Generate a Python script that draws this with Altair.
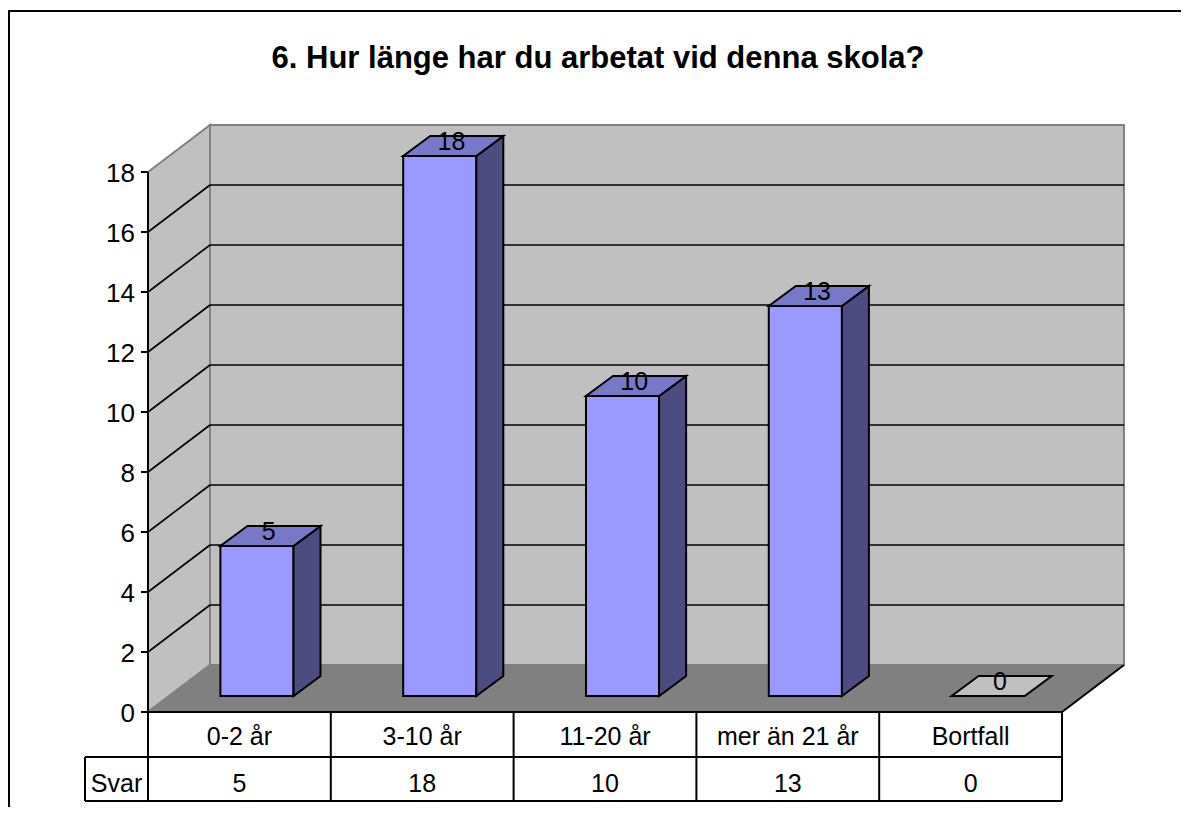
import altair as alt
import pandas as pd

# ---------------- data ----------------
title_text = "6. Hur länge har du arbetat vid denna skola?"
categories = ["0-2 år", "3-10 år", "11-20 år", "mer än 21 år", "Bortfall"]
values = [5, 18, 10, 13, 0]
series_label = "Svar"
y_ticks = [0, 2, 4, 6, 8, 10, 12, 14, 16, 18]
y_max = 18

# ---------------- layout (page pixels) ----------------
W, H = 1173, 799
X0, CELL, Y0, PXV = 148.0, 182.8, 712.0, 30.0
FONT = "Liberation Sans, Arial, sans-serif"


def U(px):
    return (px - X0) / CELL


def V(py):
    return (Y0 - py) / PXV


DU, DV = 62 / CELL, 47 / PXV          # wall depth
B_OFF, B_HALF = 0.596, 0.2            # bar centre / half width (front plane, cat units)
B_DX1, B_DX2 = 0.0, 27 / CELL        # bar front / back horizontal shift
B_DV1, B_DV2 = 16 / PXV, 36 / PXV    # bar front / back vertical shift
n = len(categories)

xs = alt.Scale(domain=[U(8), U(8 + W)], nice=False, zero=False)
ys = alt.Scale(domain=[V(8 + H), V(8)], nice=False, zero=False)


def X(f="x"):
    return alt.X(f"{f}:Q", scale=xs, axis=None)


def Y(f="y"):
    return alt.Y(f"{f}:Q", scale=ys, axis=None)


layers = []

# floor
floor = pd.DataFrame({"y": [0, DV], "x": [0, DU], "x2": [n, n + DU]})
layers.append(alt.Chart(floor).mark_area(orient="horizontal", fill="#808080", stroke=None)
              .encode(y=Y(), x=X(), x2="x2:Q"))

# left wall
lw = pd.DataFrame({"x": [0, DU], "y": [y_max, y_max + DV], "y2": [0, DV]})
layers.append(alt.Chart(lw).mark_area(orient="vertical", fill="#C0C0C0", stroke="#808080", strokeWidth=2)
              .encode(x=X(), y=Y(), y2="y2:Q"))

# back wall
bw = pd.DataFrame({"x": [DU], "x2": [n + DU], "y": [DV], "y2": [y_max + DV]})
layers.append(alt.Chart(bw).mark_rect(fill="#C0C0C0", stroke="#808080", strokeWidth=2)
              .encode(x=X(), x2="x2:Q", y=Y(), y2="y2:Q"))

# gridlines on back wall and left wall
inner = [t for t in y_ticks if 0 < t < y_max]
gb = pd.DataFrame({"x": DU, "x2": n + DU, "y": [t + DV for t in inner]})
layers.append(alt.Chart(gb).mark_rule(color="black", strokeWidth=1.6)
              .encode(x=X(), x2="x2:Q", y=Y()))
gl = pd.DataFrame({"x": 0, "x2": DU, "y": inner, "y2": [t + DV for t in inner]})
layers.append(alt.Chart(gl).mark_rule(color="black", strokeWidth=1.6)
              .encode(x=X(), x2="x2:Q", y=Y(), y2="y2:Q"))

# floor edges
fe = pd.DataFrame({"x": [0, n], "x2": [DU, n + DU], "y": [0, 0], "y2": [DV, DV],
                   "c": ["#808080", "black"]})
layers.append(alt.Chart(fe).mark_rule(strokeWidth=2)
              .encode(x=X(), x2="x2:Q", y=Y(), y2="y2:Q", color=alt.Color("c:N", scale=None)))

# y axis line, ticks, labels
ax = pd.DataFrame({"x": [0], "y": [0], "y2": [y_max]})
layers.append(alt.Chart(ax).mark_rule(color="black", strokeWidth=2)
              .encode(x=X(), y=Y(), y2="y2:Q"))
tk = pd.DataFrame({"x": U(141), "x2": 0.0, "y": y_ticks})
layers.append(alt.Chart(tk).mark_rule(color="black", strokeWidth=2)
              .encode(x=X(), x2="x2:Q", y=Y()))
tl = pd.DataFrame({"x": U(135), "y": [t - 10 / PXV for t in y_ticks], "t": [str(t) for t in y_ticks]})
layers.append(alt.Chart(tl).mark_text(align="right", baseline="alphabetic", font=FONT, fontSize=26, color="black")
              .encode(x=X(), y=Y(), text="t:N"))

# bars
bars = pd.DataFrame({"cat": categories, "val": values, "i": range(n)})
bars["c"] = bars["i"] + B_OFF
front = pd.DataFrame({
    "x": bars["c"] - B_HALF + B_DX1, "x2": bars["c"] + B_HALF + B_DX1,
    "y": B_DV1, "y2": bars["val"] + B_DV1, "cat": bars["cat"]})
layers.append(alt.Chart(front).mark_rect(fill="#9999FF", stroke="black", strokeWidth=2)
              .encode(x=X(), x2="x2:Q", y=Y(), y2="y2:Q"))

side_rows, top_rows = [], []
for _, r in bars.iterrows():
    for dx, dv in ((B_DX1, B_DV1), (B_DX2, B_DV2)):
        side_rows.append({"cat": r["cat"], "x": r["c"] + B_HALF + dx,
                          "y": r["val"] + dv, "y2": dv})
        top_rows.append({"cat": r["cat"], "y": r["val"] + dv,
                         "x": r["c"] - B_HALF + dx, "x2": r["c"] + B_HALF + dx,
                         "f": "#7878C8" if r["val"] > 0 else "#C0C0C0"})
side = pd.DataFrame(side_rows)
top = pd.DataFrame(top_rows)
layers.append(alt.Chart(side[side["y"] > side["y2"] + 1e-9]).mark_area(
    orient="vertical", fill="#4C4C80", stroke="black", strokeWidth=2)
    .encode(x=X(), y=Y(), y2="y2:Q", detail="cat:N"))
layers.append(alt.Chart(top).mark_area(orient="horizontal", stroke="black", strokeWidth=2)
              .encode(y=Y(), x=X(), x2="x2:Q", detail="cat:N", color=alt.Color("f:N", scale=None)))

# value labels
vl = pd.DataFrame({"x": bars["c"] + 0.064, "y": bars["val"] + 0.72, "t": [str(v) for v in values]})
layers.append(alt.Chart(vl).mark_text(align="center", baseline="alphabetic", font=FONT, fontSize=25, color="black")
              .encode(x=X(), y=Y(), text="t:N"))

# data table
r1, r2 = V(757), V(801)
tx_left = U(85)
hlines = pd.DataFrame({"x": [0, tx_left, tx_left], "x2": [n, n, n], "y": [0, r1, r2]})
layers.append(alt.Chart(hlines).mark_rule(color="black", strokeWidth=2)
              .encode(x=X(), x2="x2:Q", y=Y()))
vlines = pd.DataFrame({"x": list(range(n + 1)) + [tx_left], "y": [0] * (n + 1) + [r1],
                       "y2": [r2] * (n + 2)})
layers.append(alt.Chart(vlines).mark_rule(color="black", strokeWidth=2)
              .encode(x=X(), y=Y(), y2="y2:Q"))
ct = pd.DataFrame({"x": [i + 0.5 for i in range(n)], "y": V(745), "t": categories})
layers.append(alt.Chart(ct).mark_text(align="center", baseline="alphabetic", font=FONT, fontSize=25, color="black")
              .encode(x=X(), y=Y(), text="t:N"))
vt = pd.DataFrame({"x": [i + 0.5 for i in range(n)] + [tx_left / 2], "y": V(792),
                   "t": [str(v) for v in values] + [series_label]})
layers.append(alt.Chart(vt).mark_text(align="center", baseline="alphabetic", font=FONT, fontSize=25, color="black")
              .encode(x=X(), y=Y(), text="t:N"))

# title
tt = pd.DataFrame({"x": [U(598)], "y": [V(68)], "t": [title_text]})
layers.append(alt.Chart(tt).mark_text(align="center", baseline="alphabetic", font=FONT, fontSize=31,
                                      fontWeight="bold", color="black")
              .encode(x=X(), y=Y(), text="t:N"))

# outer frame (top and left edges visible)
fr_top = pd.DataFrame({"x": [U(8)], "x2": [U(8 + W)], "y": [V(11)]})
layers.append(alt.Chart(fr_top).mark_rule(color="black", strokeWidth=2)
              .encode(x=X(), x2="x2:Q", y=Y()))
fr_left = pd.DataFrame({"x": [U(9)], "y": [V(10)], "y2": [V(8 + H)]})
layers.append(alt.Chart(fr_left).mark_rule(color="black", strokeWidth=2)
              .encode(x=X(), y=Y(), y2="y2:Q"))

chart = alt.layer(*layers).properties(
    width=W, height=H, padding=0, autosize=alt.AutoSizeParams(type="none"), background="white"
).configure_view(stroke=None)

chart.save("out.html", embed_options={"renderer": "svg", "actions": False})
